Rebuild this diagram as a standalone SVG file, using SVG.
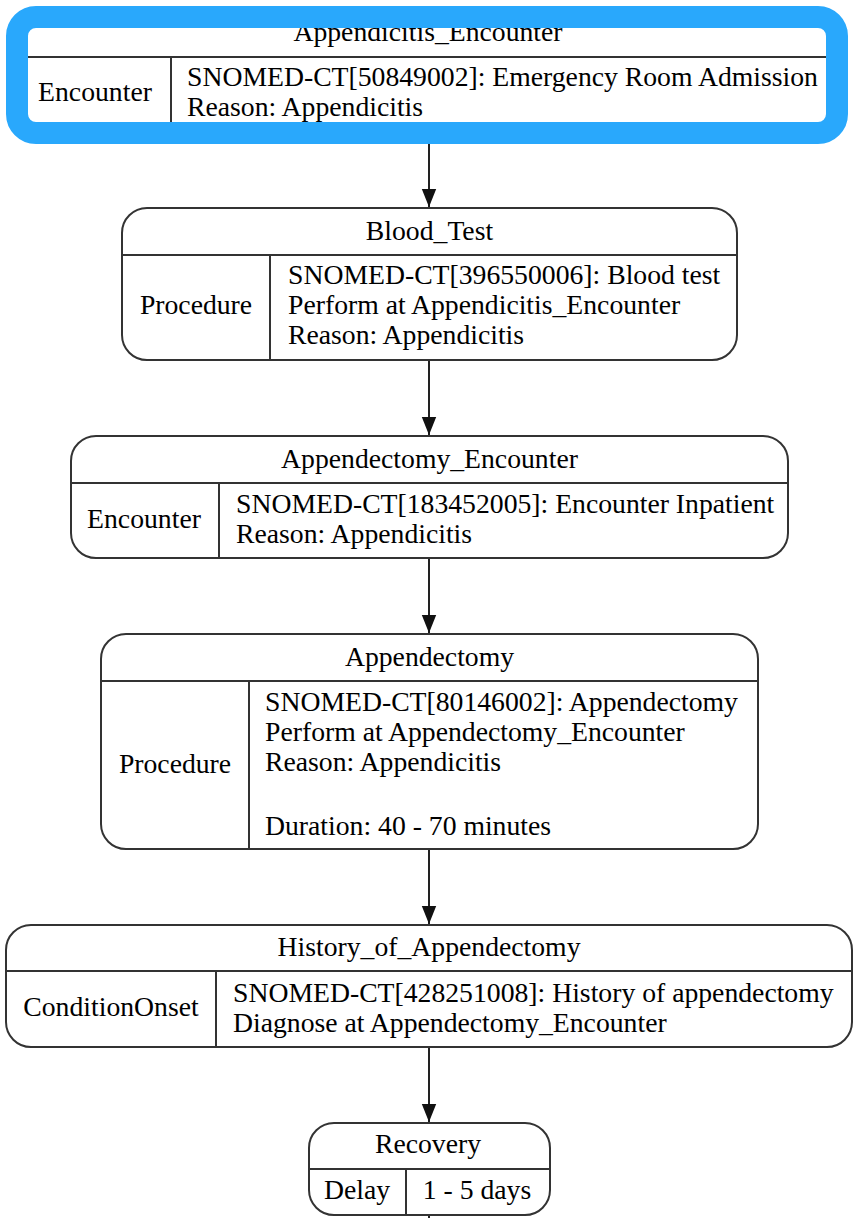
<svg xmlns="http://www.w3.org/2000/svg" width="853" height="1218" viewBox="0 0 853 1218">
<defs>
<style>
text{font-family:"Liberation Serif","Times New Roman",serif;font-size:27.7px;fill:#000}
.c{text-anchor:middle}
.box{fill:#fff;stroke:#333;stroke-width:2}
.ln{stroke:#333;stroke-width:2;fill:none}
.edge{stroke:#222;stroke-width:2;fill:none}
.hl{fill:none;stroke:#29a8fc;stroke-width:22}
</style>
<marker id="arr" markerWidth="18" markerHeight="22" refX="20" refY="8" orient="auto" markerUnits="userSpaceOnUse" viewBox="0 0 20 16">
<path d="M0,0 L20,8 L0,16 Z" fill="#111"/>
</marker>
</defs>
<rect width="853" height="1218" fill="#fff"/>
<g id="connectors">
<line class="edge" x1="429" y1="122" x2="429" y2="207" marker-end="url(#arr)"/>
<line class="edge" x1="429" y1="360" x2="429" y2="435" marker-end="url(#arr)"/>
<line class="edge" x1="429" y1="558" x2="429" y2="633" marker-end="url(#arr)"/>
<line class="edge" x1="429" y1="849" x2="429" y2="924" marker-end="url(#arr)"/>
<line class="edge" x1="429" y1="1047" x2="429" y2="1122" marker-end="url(#arr)"/>
<line class="edge" x1="429" y1="1214" x2="429" y2="1218"/>
</g>
<g id="Appendicitis_Encounter">
<rect x="28" y="28" width="798" height="94" fill="#fff"/>
<text class="c" x="428" y="41">Appendicitis_Encounter</text>
<line class="ln" x1="28" y1="57" x2="826" y2="57"/>
<line class="ln" x1="171" y1="57" x2="171" y2="122"/>
<text class="c" x="95" y="101">Encounter</text>
<text x="187" y="86">SNOMED-CT[50849002]: Emergency Room Admission</text>
<text x="187" y="116">Reason: Appendicitis</text>
<rect class="hl" x="17" y="17" width="820" height="116" rx="19"/>
</g>
<g id="Blood_Test">
<rect class="box" x="122" y="208" width="615" height="152" rx="25"/>
<text class="c" x="429.5" y="240">Blood_Test</text>
<line class="ln" x1="122" y1="255" x2="737" y2="255"/>
<line class="ln" x1="270" y1="255" x2="270" y2="360"/>
<text class="c" x="196" y="314">Procedure</text>
<text x="288" y="284">SNOMED-CT[396550006]: Blood test</text>
<text x="288" y="314">Perform at Appendicitis_Encounter</text>
<text x="288" y="344">Reason: Appendicitis</text>
</g>
<g id="Appendectomy_Encounter">
<rect class="box" x="71" y="436" width="717" height="122" rx="25"/>
<text class="c" x="429.5" y="468">Appendectomy_Encounter</text>
<line class="ln" x1="71" y1="483" x2="788" y2="483"/>
<line class="ln" x1="219" y1="483" x2="219" y2="558"/>
<text class="c" x="144" y="528">Encounter</text>
<text x="236" y="513">SNOMED-CT[183452005]: Encounter Inpatient</text>
<text x="236" y="543">Reason: Appendicitis</text>
</g>
<g id="Appendectomy">
<rect class="box" x="101" y="634" width="657" height="215" rx="25"/>
<text class="c" x="429.5" y="666">Appendectomy</text>
<line class="ln" x1="101" y1="681" x2="758" y2="681"/>
<line class="ln" x1="249" y1="681" x2="249" y2="849"/>
<text class="c" x="175" y="773">Procedure</text>
<text x="265" y="711">SNOMED-CT[80146002]: Appendectomy</text>
<text x="265" y="741">Perform at Appendectomy_Encounter</text>
<text x="265" y="771">Reason: Appendicitis</text>
<text x="265" y="835">Duration: 40 - 70 minutes</text>
</g>
<g id="History_of_Appendectomy">
<rect class="box" x="6" y="925" width="846" height="122" rx="25"/>
<text class="c" x="429" y="956">History_of_Appendectomy</text>
<line class="ln" x1="6" y1="971" x2="852" y2="971"/>
<line class="ln" x1="216" y1="971" x2="216" y2="1047"/>
<text class="c" x="111" y="1016">ConditionOnset</text>
<text x="233" y="1002">SNOMED-CT[428251008]: History of appendectomy</text>
<text x="233" y="1032">Diagnose at Appendectomy_Encounter</text>
</g>
<g id="Recovery">
<rect class="box" x="309" y="1123" width="241" height="92" rx="25"/>
<text class="c" x="428" y="1153">Recovery</text>
<line class="ln" x1="309" y1="1169" x2="550" y2="1169"/>
<line class="ln" x1="406" y1="1169" x2="406" y2="1215"/>
<text class="c" x="357" y="1199">Delay</text>
<text class="c" x="477" y="1199">1 - 5 days</text>
</g>
</svg>
